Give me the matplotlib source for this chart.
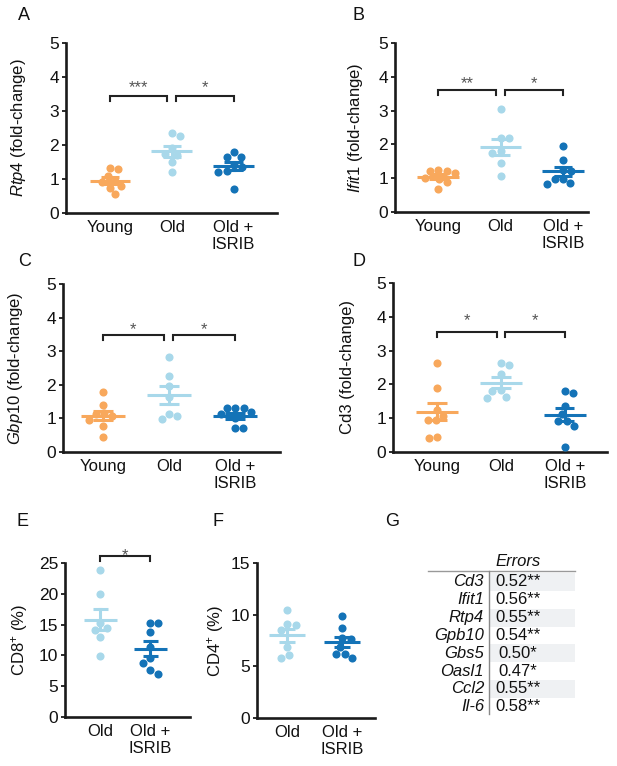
import numpy as np
import matplotlib
matplotlib.use('Agg')
import matplotlib.pyplot as plt

plt.rcParams['font.family'] = ['Liberation Sans', 'DejaVu Sans']
plt.rcParams['mathtext.fontset'] = 'custom'
plt.rcParams['mathtext.rm'] = 'Liberation Sans'
plt.rcParams['mathtext.it'] = 'Liberation Sans:italic'
plt.rcParams['mathtext.bf'] = 'Liberation Sans:bold'

# ---------------- data ----------------
groups3 = ['Young', 'Old', 'Old +\nISRIB']
groups2 = ['Old', 'Old +\nISRIB']

rtp4_young = [1.32, 1.28, 1.08, 0.95, 0.90, 0.78, 0.75, 0.55]
rtp4_old = [2.36, 2.27, 1.90, 1.75, 1.70, 1.49, 1.21]
rtp4_isrib = [1.79, 1.65, 1.65, 1.40, 1.35, 1.25, 1.22, 0.72]

ifit1_young = [1.23, 1.20, 1.20, 1.15, 1.00, 0.98, 0.90, 0.68]
ifit1_old = [3.05, 2.20, 2.18, 1.79, 1.74, 1.44, 1.07]
ifit1_isrib = [1.96, 1.54, 1.25, 1.20, 0.98, 0.98, 0.86, 0.84]

gbp10_young = [1.78, 1.40, 1.15, 1.12, 1.08, 0.95, 0.76, 0.45]
gbp10_old = [2.82, 2.27, 1.97, 1.65, 1.14, 1.08, 0.98]
gbp10_isrib = [1.31, 1.30, 1.30, 1.20, 1.12, 1.00, 0.72, 0.70]

cd3_young = [2.62, 1.88, 1.24, 1.07, 0.94, 0.94, 0.45, 0.42]
cd3_old = [2.62, 2.57, 2.30, 1.82, 1.80, 1.62, 1.60]
cd3_isrib = [1.80, 1.75, 1.36, 1.12, 0.91, 0.91, 0.77, 0.15]

cd8_old = [23.8, 20.0, 15.3, 14.5, 14.2, 13.0, 9.9]
cd8_isrib = [15.3, 15.2, 13.8, 11.4, 9.6, 8.8, 7.6, 7.0]

cd4_old = [10.5, 9.1, 9.0, 8.5, 6.9, 6.1, 5.8]
cd4_isrib = [9.9, 8.7, 7.7, 7.6, 6.9, 6.2, 6.2, 5.8]

table_genes = ['Cd3', 'Ifit1', 'Rtp4', 'Gpb10', 'Gbs5', 'Oasl1', 'Ccl2', 'Il-6']
table_values = ['0.52**', '0.56**', '0.55**', '0.54**', '0.50*', '0.47*', '0.55**', '0.58**']

# ---------------- style ----------------
COL_YOUNG = '#F8A85C'
COL_OLD = '#A8D8EA'
COL_ISRIB = '#1473B7'
AX_COL = '#1a1a1a'
TXT = '#111111'

W, H = 617, 766
fig = plt.figure(figsize=(W / 100, H / 100), dpi=100)


def add_ax(l, r, t, b):
    return fig.add_axes([l / W, 1 - b / H, (r - l) / W, (b - t) / H])


def swarm_offsets(ax, x0, vals, d):
    vals = np.asarray(vals, float)
    pts = ax.transData.transform(np.column_stack([np.full(len(vals), x0), vals]))
    ys = pts[:, 1]
    pxu = ax.transData.transform((1, 0))[0] - ax.transData.transform((0, 0))[0]
    order = np.argsort(-vals, kind='stable')
    placed = []
    offs = np.zeros(len(vals))
    side = 1
    for k in order:
        y = ys[k]
        excl = []
        for (px, py) in placed:
            dy = abs(py - y)
            if dy < d:
                w = np.sqrt(d * d - dy * dy)
                excl.append((px - w, px + w))
        cands = [0.0]
        for a, b in excl:
            cands += [a, b]
        ok = []
        for c in cands:
            if all(not (a + 1e-6 < c < b - 1e-6) for a, b in excl):
                ok.append(c)
        ok.sort(key=lambda c: (round(abs(c), 3), -side * np.sign(c)))
        c = ok[0]
        if c != 0:
            side = -side
        placed.append((c, y))
        offs[k] = c / pxu
    return offs


def panel(ax, datasets, colors, labels, ylim, yticks, xlim, ylabel, label_x_px,
          ax_left_px, ax_w_px):
    ax.set_xlim(*xlim)
    ax.set_ylim(*ylim)
    for sp in ['top', 'right']:
        ax.spines[sp].set_visible(False)
    for sp in ['left', 'bottom']:
        ax.spines[sp].set_linewidth(1.9)
        ax.spines[sp].set_color(AX_COL)
    ax.set_yticks(yticks)
    ax.set_xticks(range(len(labels)))
    ax.set_xticklabels(labels, fontsize=12, linespacing=1.2)
    ax.tick_params(axis='x', length=0, pad=5, colors=TXT)
    ax.tick_params(axis='y', length=3, width=1.3, pad=2, labelsize=12.5,
                   colors=AX_COL, labelcolor=TXT)
    ax.set_ylabel(ylabel, fontsize=12, color=TXT)
    ax.yaxis.set_label_coords((label_x_px - ax_left_px) / ax_w_px, 0.5)
    for i, (vals, c) in enumerate(zip(datasets, colors)):
        offs = swarm_offsets(ax, i, vals, 8.5)
        ax.scatter(i + offs, vals, s=34, color=c, linewidths=0, zorder=3,
                   clip_on=False)
        v = np.asarray(vals, float)
        m = v.mean()
        se = v.std(ddof=1) / np.sqrt(len(v))
        ax.plot([i - 0.33, i + 0.33], [m, m], color=c, lw=2.2, zorder=4,
                solid_capstyle='butt')
        ax.plot([i, i], [m - se, m + se], color=c, lw=2.2, zorder=4)
        for yy in (m - se, m + se):
            ax.plot([i - 0.15, i + 0.15], [yy, yy], color=c, lw=2.2, zorder=4,
                    solid_capstyle='butt')


def bracket(ax, x1, x2, y, tip, text, ystar):
    ax.plot([x1, x1, x2, x2], [y - tip, y, y, y - tip], color='#222222',
            lw=1.5, clip_on=False, solid_joinstyle='miter')
    ax.annotate(text, xy=((x1 + x2) / 2, ystar), xytext=(0, -7),
                textcoords='offset points', ha='center', va='baseline',
                fontsize=12, color='#555555', annotation_clip=False)


cols3 = [COL_YOUNG, COL_OLD, COL_ISRIB]
cols2 = [COL_OLD, COL_ISRIB]
ticks5 = [0, 1, 2, 3, 4, 5]

# A
axA = add_ax(66, 277, 43, 213)
panel(axA, [rtp4_young, rtp4_old, rtp4_isrib], cols3, groups3, (0, 5), ticks5,
      (-0.71, 2.7), r'$\mathit{Rtp4}$ (fold-change)', 28, 66, 211)
bracket(axA, 0, 0.93, 3.43, 0.15, '***', 3.85)
bracket(axA, 1.06, 2.0, 3.43, 0.15, '*', 3.85)

# B
axB = add_ax(395, 588, 43, 212)
panel(axB, [ifit1_young, ifit1_old, ifit1_isrib], cols3, groups3, (0, 5), ticks5,
      (-0.69, 2.4), r'$\mathit{Ifit1}$ (fold-change)', 365, 395, 193)
bracket(axB, 0, 0.93, 3.6, 0.15, '**', 3.95)
bracket(axB, 1.07, 2.0, 3.6, 0.15, '*', 3.95)

# C
axC = add_ax(63, 280, 284, 452)
panel(axC, [gbp10_young, gbp10_old, gbp10_isrib], cols3, groups3, (0, 5), ticks5,
      (-0.6, 2.68), r'$\mathit{Gbp10}$ (fold-change)', 25, 63, 217)
bracket(axC, 0, 0.93, 3.47, 0.14, '*', 3.8)
bracket(axC, 1.06, 2.0, 3.47, 0.14, '*', 3.8)

# D
axD = add_ax(393, 607, 283, 452)
panel(axD, [cd3_young, cd3_old, cd3_isrib], cols3, groups3, (0, 5), ticks5,
      (-0.69, 2.66), 'Cd3 (fold-change)', 355, 393, 214)
bracket(axD, 0, 0.94, 3.56, 0.15, '*', 4.03)
bracket(axD, 1.07, 2.0, 3.56, 0.15, '*', 4.03)

# E
axE = add_ax(65, 190, 563, 717)
panel(axE, [cd8_old, cd8_isrib], cols2, groups2, (0, 25), [0, 5, 10, 15, 20, 25],
      (-0.7, 1.8), r'CD8$^{+}$ (%)', 30, 65, 125)
bracket(axE, 0, 1.0, 26.1, 0.8, '*', 27.1)

# F
axF = add_ax(257, 375, 563, 718)
panel(axF, [cd4_old, cd4_isrib], cols2, groups2, (0, 15), [0, 5, 10, 15],
      (-0.55, 1.6), r'CD4$^{+}$ (%)', 226, 257, 118)

# ---------------- overlay: panel letters and table ----------------
ov = fig.add_axes([0, 0, 1, 1], zorder=-1)
ov.set_xlim(0, W)
ov.set_ylim(H, 0)
ov.axis('off')
for lab, x, y in [('A', 18, 15), ('B', 352, 15), ('C', 18, 262), ('D', 352, 262),
                  ('E', 17, 521), ('F', 213, 521), ('G', 385, 521)]:
    ov.text(x, y, lab, fontsize=13, ha='left', va='center', color=TXT)

row_h = 17.8
row0 = 582
x_vline = 489
x_right = 575
ov.text(518, 562, 'Errors', fontsize=12, style='italic', ha='center',
        va='center', color=TXT)
ov.plot([428, x_right], [571, 571], color='#999999', lw=1.0)
for i, (g, v) in enumerate(zip(table_genes, table_values)):
    yc = row0 + i * row_h
    if i % 2 == 0:
        ov.add_patch(plt.Rectangle((x_vline, yc - row_h / 2), x_right - x_vline,
                                   row_h, color='#EFF1F3', lw=0, zorder=0))
    ov.text(484, yc, g, fontsize=12, style='italic', ha='right', va='center',
            color=TXT)
    ov.text(518, yc, v, fontsize=12, ha='center', va='center', color=TXT)
ov.plot([x_vline, x_vline], [571, row0 + 7 * row_h + 7], color='#888888', lw=1.0)

fig.savefig('out.png', dpi=100, facecolor='white')
